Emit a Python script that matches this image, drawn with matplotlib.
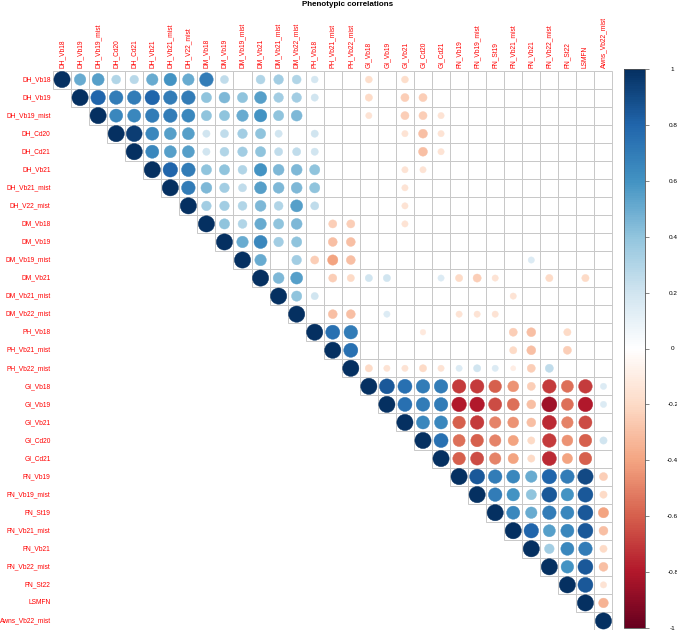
import numpy as np
import matplotlib
matplotlib.use("Agg")
import matplotlib.pyplot as plt
from matplotlib.colors import LinearSegmentedColormap, Normalize
from matplotlib.patches import Circle, Rectangle
from matplotlib.cm import ScalarMappable

plt.rcParams["font.family"] = ["Liberation Sans", "DejaVu Sans"]

N = None

traits = ["DH_Vb18", "DH_Vb19", "DH_Vb19_mist", "DH_Cd20", "DH_Cd21", "DH_Vb21",
          "DH_Vb21_mist", "DH_V22_mist", "DM_Vb18", "DM_Vb19", "DM_Vb19_mist",
          "DM_Vb21", "DM_Vb21_mist", "DM_Vb22_mist", "PH_Vb18", "PH_Vb21_mist",
          "PH_Vb22_mist", "GI_Vb18", "GI_Vb19", "GI_Vb21", "GI_Cd20", "GI_Cd21",
          "FN_Vb19", "FN_Vb19_mist", "FN_St19", "FN_Vb21_mist", "FN_Vb21",
          "FN_Vb22_mist", "FN_St22", "LSMFN", "Awns_Vb22_mist"]

# upper triangle, each row starts at the diagonal; None = not significant (blank)
upper = [
    [1, .5, .55, .3, .28, .5, .6, .5, .7, .25, N, .3, .35, .3, .18, N, N, -.18, N, -.18] + [N] * 11,
    [1, .8, .7, .7, .8, .7, .7, .4, .45, .4, .55, .35, .35, .2, N, N, -.2, N, -.25, -.25] + [N] * 10,
    [1, .65, .65, .7, .7, .65, .4, .4, .5, .6, .4, .45, N, N, N, -.15, N, -.25, -.25, -.15] + [N] * 9,
    [1, .95, .65, .55, .55, .2, .25, .35, .4, .2, N, .2, N, N, N, N, -.15, -.3, -.15] + [N] * 9,
    [1, .65, .55, .55, .2, .3, .35, .4, .25, .25, .2, N, N, N, N, N, -.3, -.15] + [N] * 9,
    [1, .8, .7, .4, .4, .3, .6, .45, .45, .4, N, N, N, N, -.15, -.15] + [N] * 10,
    [1, .7, .45, .35, .25, .55, .45, .45, .4, N, N, N, N, -.15] + [N] * 11,
    [1, .35, .35, .3, .45, .3, .55, .25, N, N, N, N, -.15] + [N] * 11,
    [1, .4, .3, .5, .4, .45, N, -.25, -.25, N, N, -.15] + [N] * 11,
    [1, .5, .65, .35, .4, N, -.3, -.3] + [N] * 14,
    [1, .5, N, .35, -.25, -.4, -.3, N, N, N, N, N, N, N, N, N, .15, N, N, N, N],
    [1, .45, .55, N, -.25, -.2, .2, .2, N, N, .15, -.2, -.25, -.15, N, N, -.2, N, -.2, N],
    [1, .4, .2] + [N] * 10 + [-.15] + [N] * 5,
    [1, N, -.3, -.3, N, .15, N, N, N, -.15, -.15, -.15] + [N] * 6,
    [1, .75, .7, N, N, N, -.12, N, N, N, N, -.25, -.3, N, -.2, N, N],
    [1, .75] + [N] * 8 + [-.2, -.3, N, -.25, N, N],
    [1, -.2, -.15, -.15, -.2, -.15, .15, .2, .15, -.1, -.25, .25, N, N, N],
    [1, .85, .75, .7, .7, -.7, -.7, -.6, -.45, -.25, -.7, -.55, -.7, .15],
    [1, .75, .7, .7, -.8, -.8, -.65, -.55, -.3, -.85, -.55, -.8, .15],
    [1, .65, .65, -.6, -.7, -.5, -.45, -.3, -.75, -.5, -.65, N],
    [1, .75, -.55, -.6, -.5, -.4, -.2, -.7, -.45, -.6, .2],
    [1, -.6, -.65, -.5, -.4, -.2, -.75, -.4, -.6, N],
    [1, .85, .7, .65, .5, .8, .7, .9, -.25],
    [1, .7, .6, .4, .85, .6, .85, -.2],
    [1, .65, .5, .7, .65, .85, -.4],
    [1, .8, .55, .65, .85, -.3],
    [1, .35, .65, .7, -.2],
    [1, .6, .85, -.3],
    [1, .85, -.15],
    [1, -.35],
    [1],
]

cbar_ticks = [1, 0.8, 0.6, 0.4, 0.2, 0, -0.2, -0.4, -0.6, -0.8, -1]

# corrplot RdBu palette
cmap = LinearSegmentedColormap.from_list(
    "corr", ["#67001F", "#B2182B", "#D6604D", "#F4A582", "#FDDBC7", "#FFFFFF",
             "#D1E5F0", "#92C5DE", "#4393C3", "#2166AC", "#053061"])
norm = Normalize(-1, 1)

W, H = 677, 632
fig = plt.figure(figsize=(W / 100, H / 100), dpi=100)
n = len(traits)
gx0, gx1, gy0, gy1 = 53, 612.5, 70.5, 630
ax = fig.add_axes([gx0 / W, 1 - gy1 / H, (gx1 - gx0) / W, (gy1 - gy0) / H])
ax.set_xlim(0, n)
ax.set_ylim(n, 0)
ax.axis("off")

for i, row in enumerate(upper):
    for k, r in enumerate(row):
        j = i + k
        ax.add_patch(Rectangle((j, i), 1, 1, fill=False, ec="#c8c8c8", lw=0.7))
        if r is None:
            continue
        c = cmap(norm(r))
        ax.add_patch(Circle((j + 0.5, i + 0.5), 0.9 * np.sqrt(abs(r)) / 2,
                            fc=c, ec=c, lw=0.3))

for j, t in enumerate(traits):
    ax.text(j + 0.5, -0.15, t, rotation=90, ha="center", va="bottom",
            color="red", fontsize=4.8, clip_on=False)
    ax.text(-0.13, j + 0.5, t, ha="right", va="center",
            color="red", fontsize=4.8, clip_on=False)

fig.text(347.5 / W, 1 - 5 / H, "Phenotypic correlations", ha="center", va="center",
         fontsize=5.8, fontweight="bold")

cax = fig.add_axes([624 / W, 1 - 628 / H, 21 / W, 559 / H])
cb = fig.colorbar(ScalarMappable(norm=norm, cmap=cmap), cax=cax)
cb.set_ticks(cbar_ticks)
cb.set_ticklabels([f"{v:g}".replace("\u2212", "-") for v in cbar_ticks])
cb.outline.set_linewidth(0.6)
cb.outline.set_edgecolor("#555555")
cax.tick_params(length=3, width=0.5, labelsize=4.6, pad=17, color="#555555")
for lab in cax.get_yticklabels():
    lab.set_ha("center")

fig.savefig("out.png", dpi=100)
